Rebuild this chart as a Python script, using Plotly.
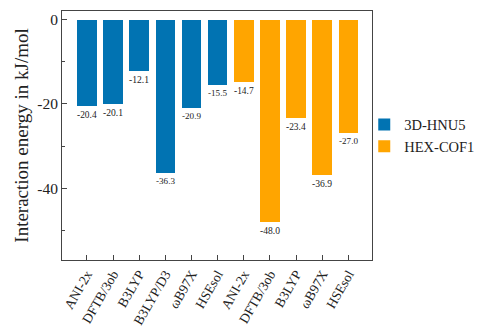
import plotly.graph_objects as go

methods_3d = ["ANI-2x", "DFTB/3ob", "B3LYP", "B3LYP/D3", "ωB97X", "HSEsol"]
values_3d = [-20.4, -20.1, -12.1, -36.3, -20.9, -15.5]
methods_hex = ["ANI-2x", "DFTB/3ob", "B3LYP", "ωB97X", "HSEsol"]
values_hex = [-14.7, -48.0, -23.4, -36.9, -27.0]
series_names = ["3D-HNU5", "HEX-COF1"]
colors = ["#0173B2", "#FFA500"]

x_3d = list(range(len(methods_3d)))
x_hex = list(range(len(methods_3d), len(methods_3d) + len(methods_hex)))

font_family = "Liberation Serif, DejaVu Serif, serif"

fig = go.Figure()
for name, xs, vals, col in [(series_names[0], x_3d, values_3d, colors[0]),
                            (series_names[1], x_hex, values_hex, colors[1])]:
    fig.add_trace(go.Bar(
        x=xs, y=vals, name=name, marker=dict(color=col, line=dict(width=0)),
        width=0.75,
        text=[f"{v:.1f}" for v in vals], textposition="outside",
        textfont=dict(size=13, color="#222"), cliponaxis=False,
    ))

fig.update_layout(
    width=484, height=328,
    margin=dict(l=54, r=120, t=3, b=76),
    paper_bgcolor="white", plot_bgcolor="white",
    font=dict(family=font_family, color="#222", size=15),
    showlegend=True,
    legend=dict(x=0.975, y=0.5, xanchor="left", yanchor="middle",
                font=dict(size=14.5), tracegroupgap=0, itemwidth=30,
                bgcolor="rgba(0,0,0,0)"),
    bargap=0,
)
fig.update_xaxes(
    range=[-0.95, 10.9],
    tickvals=x_3d + x_hex, ticktext=methods_3d + methods_hex,
    tickangle=-60, ticks="inside", ticklen=5, tickcolor="#444",
    showline=True, linecolor="#444", linewidth=1, mirror=True,
    showgrid=False, zeroline=False, tickfont=dict(size=13.5),
)
fig.update_yaxes(
    range=[-57.1, 2.1], tickvals=[0, -20, -40], ticktext=["0", "-20", "-40"],
    ticks="inside", ticklen=5, tickcolor="#444",
    minor=dict(tickvals=[-10, -30, -50], ticks="inside", ticklen=3, tickcolor="#444"),
    showline=True, linecolor="#444", linewidth=1, mirror=True,
    showgrid=False, zeroline=False, tickfont=dict(size=15.5),
    title=dict(text="Interaction energy in kJ/mol", font=dict(size=19), standoff=3),
)
fig.write_html("out.html")
